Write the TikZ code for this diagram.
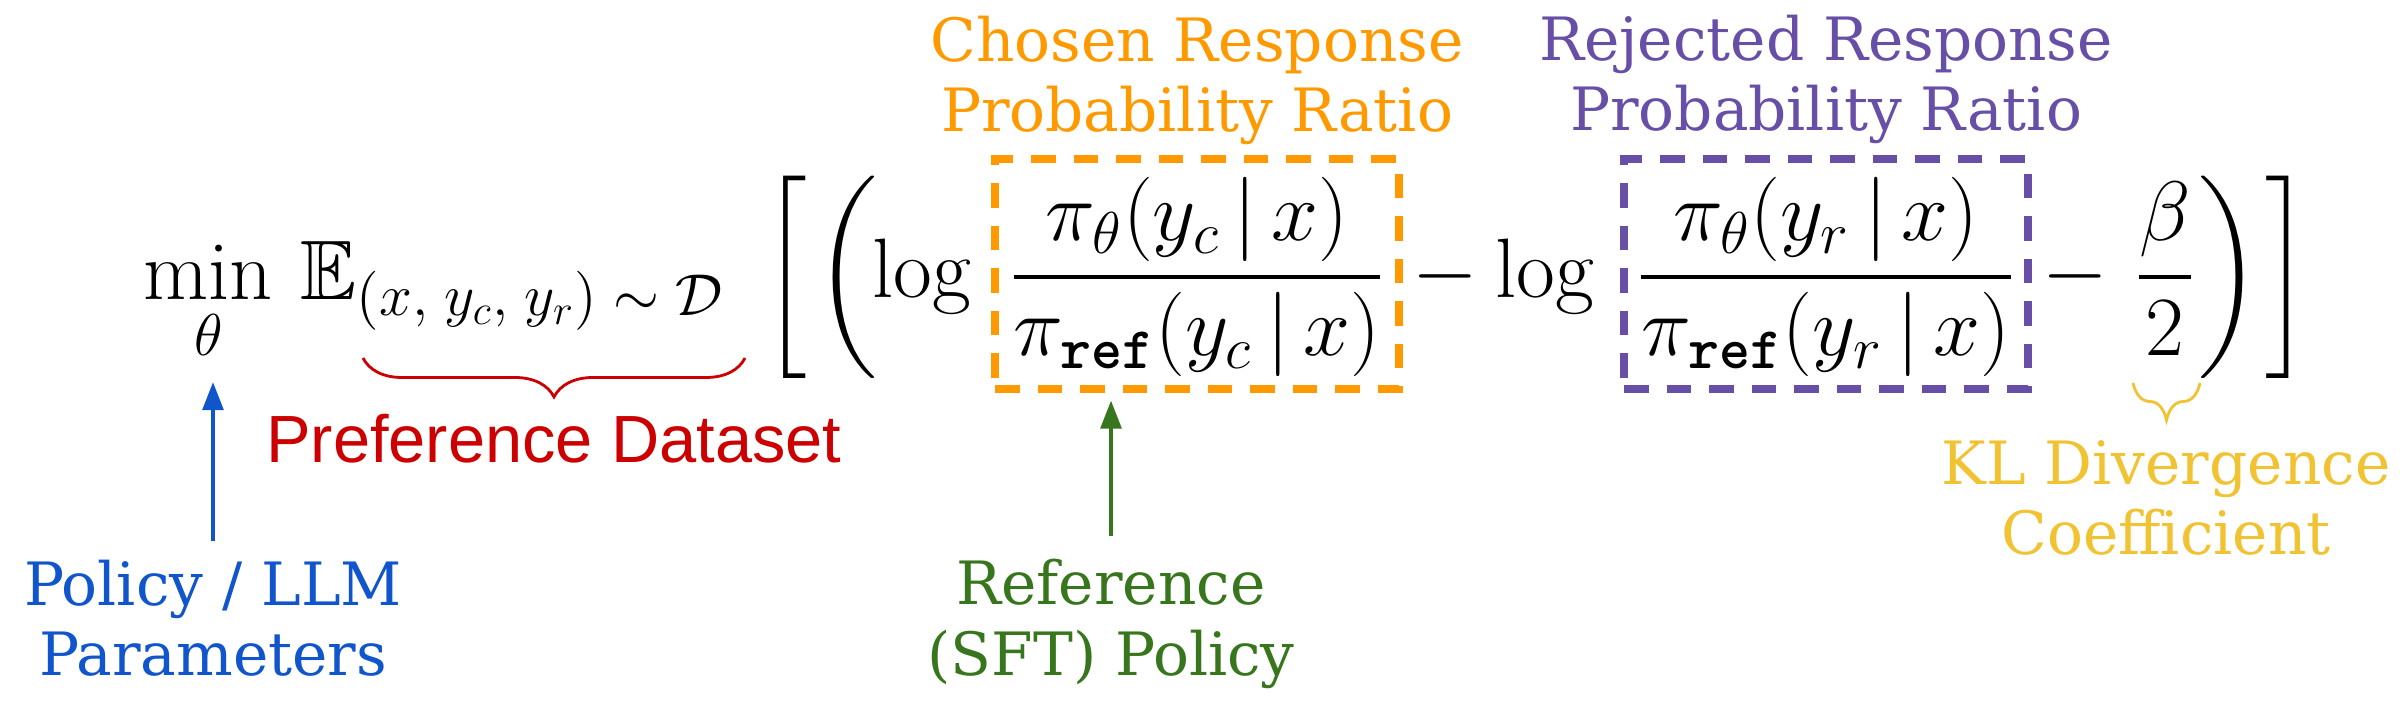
\documentclass[tikz,border=0pt]{standalone}
\usepackage{fix-cm}
\usepackage{amsmath}
\usepackage{amssymb}
\usepackage{xcolor}
\usepackage{fontspec}
\usepackage{tikz}
\usetikzlibrary{arrows.meta,positioning,decorations.pathreplacing}
\newfontfamily\slabfont{DejaVu Serif}
\newfontfamily\labelsans{Liberation Sans}
\definecolor{chosencol}{HTML}{FF9900}
\definecolor{rejectcol}{HTML}{674EA7}
\definecolor{datacol}{HTML}{CC0000}
\definecolor{policycol}{HTML}{1155CC}
\definecolor{refcol}{HTML}{38761D}
\definecolor{klcol}{HTML}{F1C232}
\newcommand{\tallfence}[1]{\left#1\vcenter{\hbox{\rule{0pt}{2.07cm}}}\right.}
\newcommand{\refsub}{\text{\ttfamily\bfseries ref}}
\tikzset{
  eq/.style={inner sep=0pt, font=\fontsize{24}{29}\selectfont},
  lbl/.style={inner sep=0pt, align=center, font=\slabfont\fontsize{17}{20}\selectfont},
  ratiobox/.style={eq, draw, line width=2.1pt, dash pattern=on 0.245cm off 0.18cm,
    minimum width=4.04cm, text height=1.39cm, text depth=0.91cm},
  pointer/.style={line width=0.9pt, -{Triangle[length=0.28cm,width=0.21cm]}},
  curly/.style={line width=0.8pt, decorate, decoration={brace, mirror, amplitude=#1}}
}
\begin{document}
\begin{tikzpicture}
  \useasboundingbox (0,0) rectangle (24.08,7.16);
  \node [eq, anchor=base west] (minop) at (1.43, 4.16) {$\displaystyle\min_{\theta}$};
  \node [eq, anchor=base west] (expect) at (3.00, 4.16) {$\mathbb{E}_{(x,\;y_c,\;y_r)\;\sim\;\mathcal{D}}$};
  \node [eq, anchor=base west] (lbrack) at (7.62, 4.18) {$\tallfence[$};
  \node [eq, anchor=base west] (lparen) at (8.15, 4.18) {$\tallfence($};
  \node [eq, anchor=base west] (loga) at (8.72, 4.18) {$\log$};
  \node [ratiobox, chosencol, anchor=base] (chosen) at (11.97, 4.18)
    {\color{black}$\displaystyle\frac{\pi_{\theta}(y_c\,|\,x)}{\pi_{\refsub}(y_c\,|\,x)}$};
  \node [eq, anchor=base west] (minusa) at (14.12, 4.18) {$-$};
  \node [eq, anchor=base west] (logb) at (14.95, 4.18) {$\log$};
  \node [ratiobox, rejectcol, anchor=base] (rejected) at (18.26, 4.18)
    {\color{black}$\displaystyle\frac{\pi_{\theta}(y_r\,|\,x)}{\pi_{\refsub}(y_r\,|\,x)}$};
  \node [eq, anchor=base west] (minusb) at (20.42, 4.18) {$-$};
  \node [eq, anchor=base] (beta) at (21.65, 4.18) {$\displaystyle\frac{\beta}{2}$};
  \node [eq, anchor=base west] (rparen) at (21.98, 4.18) {$\tallfence)$};
  \node [eq, anchor=base west] (rbrack) at (22.65, 4.18) {$\tallfence]$};

  \node [lbl, chosencol, anchor=base] (chosenlbl) at (11.97, 5.84) {Chosen Response\\Probability Ratio};
  \node [lbl, rejectcol, anchor=base] (rejectedlbl) at (18.26, 5.85) {Rejected Response\\Probability Ratio};
  \node [lbl, refcol, anchor=base] (reflbl) at (11.11, 0.41) {Reference\\(SFT) Policy};
  \node [lbl, policycol, anchor=base] (policylbl) at (2.13, 0.40) {Policy / LLM\\Parameters};
  \node [lbl, klcol, anchor=base] (kllbl) at (21.66, 1.61) {KL Divergence\\Coefficient};
  \node [inner sep=0pt, datacol, font=\labelsans\fontsize{19}{23}\selectfont, anchor=base] (datalbl) at (5.54, 2.53) {Preference Dataset};

  \draw [curly=0.39cm, datacol] (3.63, 3.58) -- (7.45, 3.58);
  \draw [curly=0.37cm, klcol] (21.33, 3.33) -- (22.00, 3.33);
  \draw [pointer, policycol, shorten <=0.19cm, shorten >=0.18cm] (policylbl.north) -- (policylbl.north |- minop.south);
  \draw [pointer, refcol, shorten <=0.23cm, shorten >=0.08cm] (reflbl.north) -- (reflbl.north |- chosen.south);
\end{tikzpicture}
\end{document}
